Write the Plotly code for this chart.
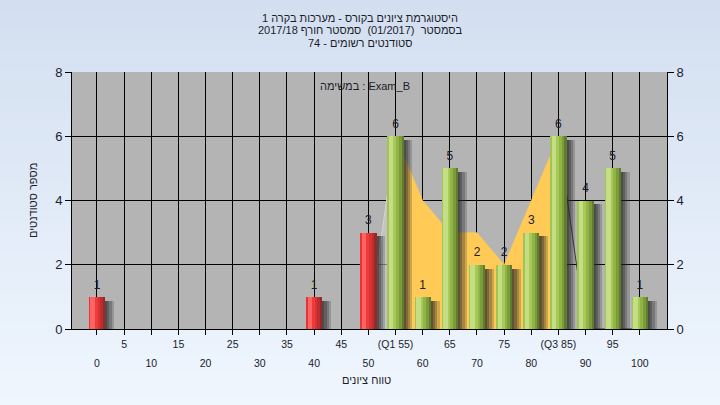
import plotly.graph_objects as go

# ---------------- data ----------------
categories = [0, 5, 10, 15, 20, 25, 30, 35, 40, 45, 50, 55, 60, 65, 70, 75, 80, 85, 90, 95, 100]
counts = [1, 0, 0, 0, 0, 0, 0, 0, 1, 0, 3, 6, 1, 5, 2, 2, 3, 6, 4, 5, 1]
tick_labels = ["0", "5", "10", "15", "20", "25", "30", "35", "40", "45", "50",
               "(Q1 55)", "60", "65", "70", "75", "80", "(Q3 85)", "90", "95", "100"]
area_values = [None, None, None, None, None, None, None, None, None, None,
               0, 6, 4, 3, 3, 2, 4, 6, 0, 0, 0]
q1 = 55
q3 = 85
pass_threshold = 55

title_lines = ["היסטוגרמת ציונים בקורס - מערכות בקרה 1",
               "בסמסטר  (01/2017)  סמסטר חורף 2017/18",
               "סטודנטים רשומים - 74"]
legend_text = "במשימה : Exam_B"
x_title = "טווח ציונים"
y_title = "מספר סטודנטים"

# ---------------- layout geometry ----------------
W, H = 720, 405
L, R, T, B = 72, 667, 72, 329
PW, PH = R - L, B - T
FONT = "Liberation Sans, DejaVu Sans, Arial, sans-serif"
TXT = "#1c1c2a"


def px_to_paper_x(px):
    return (px - L) / PW


def px_to_paper_y(py):
    return (B - py) / PH


fig = go.Figure()

# ---------------- area (IQR highlight) on base subplot (drawn first) ----------------
iqr_x = [c for c, v in zip(categories, area_values) if v is not None and q1 <= c <= q3]
iqr_y = [v for c, v in zip(categories, area_values) if v is not None and q1 <= c <= q3]
left_x = [c for c, v in zip(categories, area_values) if v is not None and c <= q1]
left_y = [v for c, v in zip(categories, area_values) if v is not None and c <= q1]
right_x = [c for c, v in zip(categories, area_values) if v is not None and c >= q3]
right_y = [v for c, v in zip(categories, area_values) if v is not None and c >= q3]

fig.add_trace(go.Scatter(x=left_x, y=left_y, mode="lines", fill="tozeroy",
                         fillcolor="rgba(205,205,205,0.6)",
                         line=dict(color="rgba(215,215,215,0.9)", width=1),
                         hoverinfo="skip", showlegend=False))
fig.add_trace(go.Scatter(x=iqr_x, y=iqr_y, mode="lines", fill="tozeroy",
                         fillcolor="#FFCA55", line=dict(color="#FFCA55", width=0.5),
                         hoverinfo="skip", showlegend=False))
fig.add_trace(go.Scatter(x=right_x, y=right_y, mode="lines",
                         line=dict(color="#3a3a3a", width=1),
                         hoverinfo="skip", showlegend=False))

# ---------------- bars on overlay subplot (drawn above the area) ----------------
bar_x = [c for c, n in zip(categories, counts) if n > 0]
bar_y = [n for n in counts if n > 0]
is_fail = [c < pass_threshold for c in bar_x]
bar_w = 3.0
half = bar_w / 2

# drop shadow to the right of each bar
shadow_y = [n - 0.12 for n in bar_y]
for off, wid, col in [(half, 1.6, "rgba(40,40,40,0.22)"),
                      (half, 1.2, "rgba(40,40,40,0.26)"),
                      (half, 0.8, "rgba(40,40,40,0.3)"),
                      (half, 0.4, "rgba(40,40,40,0.34)")]:
    fig.add_trace(go.Bar(x=bar_x, y=shadow_y, offset=off, width=wid,
                         xaxis="x2", yaxis="y2",
                         marker=dict(color=col, line=dict(width=0)),
                         hoverinfo="skip", showlegend=False))

# cylinder shading layers: (offset from centre, width, green colour, red colour)
layers = [
    (-half, 3.0, "#5F7D2C", "#9A2828"),
    (-half, 2.6, "#7C9C3B", "#BC2E2E"),
    (-half, 2.1, "#92B447", "#D83333"),
    (-half, 1.6, "#A6C957", "#EE3A3A"),
    (-half + 0.25, 0.85, "#C3DE85", "#FF6464"),
    (-half, 0.3, "#A2C454", "#E83434"),
]
for off, wid, gcol, rcol in layers:
    colors = [rcol if f else gcol for f in is_fail]
    fig.add_trace(go.Bar(x=bar_x, y=bar_y, offset=off, width=wid,
                         xaxis="x2", yaxis="y2",
                         marker=dict(color=colors, line=dict(width=0)),
                         hoverinfo="skip", showlegend=False))

# value labels
fig.add_trace(go.Scatter(x=bar_x, y=bar_y, mode="markers+text", text=[str(n) for n in bar_y],
                         xaxis="x2", yaxis="y2",
                         marker=dict(size=7, opacity=0),
                         textposition="top center",
                         textfont=dict(family=FONT, size=12, color=TXT),
                         hoverinfo="skip", showlegend=False))

# ---------------- background (gradient + plot area) ----------------
shapes = []
n_strips = 40
top_rgb = (211, 223, 240)
bot_rgb = (239, 246, 254)
y_top = px_to_paper_y(0)
y_bot = px_to_paper_y(H)
for i in range(n_strips):
    t = i / (n_strips - 1)
    col = tuple(round(top_rgb[k] + (bot_rgb[k] - top_rgb[k]) * t) for k in range(3))
    y0 = y_top - (y_top - y_bot) * i / n_strips
    y1 = y_top - (y_top - y_bot) * (i + 1) / n_strips
    shapes.append(dict(type="rect", xref="paper", yref="paper",
                       x0=px_to_paper_x(0), x1=px_to_paper_x(W), y0=y1, y1=y0 + 0.002,
                       fillcolor="rgb(%d,%d,%d)" % col, line=dict(width=0), layer="below"))
shapes.append(dict(type="rect", xref="paper", yref="paper", x0=0, x1=1, y0=0, y1=1,
                   fillcolor="#B4B4B4", line=dict(width=0), layer="below"))

# ---------------- annotations ----------------
annotations = []
for line, py in zip(title_lines, [18, 30, 43]):
    annotations.append(dict(text=line, xref="paper", yref="paper",
                            x=px_to_paper_x(360), y=px_to_paper_y(py),
                            xanchor="center", yanchor="middle", showarrow=False,
                            font=dict(family=FONT, size=11, color=TXT)))
annotations.append(dict(text=legend_text, xref="paper", yref="paper",
                        x=px_to_paper_x(365), y=px_to_paper_y(86),
                        xanchor="center", yanchor="middle", showarrow=False,
                        font=dict(family=FONT, size=11, color=TXT)))
annotations.append(dict(text=x_title, xref="paper", yref="paper",
                        x=px_to_paper_x(366), y=px_to_paper_y(380),
                        xanchor="center", yanchor="middle", showarrow=False,
                        font=dict(family=FONT, size=11, color=TXT)))
annotations.append(dict(text=y_title, xref="paper", yref="paper",
                        x=px_to_paper_x(33), y=px_to_paper_y(201), textangle=-90,
                        xanchor="center", yanchor="middle", showarrow=False,
                        font=dict(family=FONT, size=11, color=TXT)))

x_range = [-4.6, 105.0]
upper_text = [lab if i % 2 == 1 else "" for i, lab in enumerate(tick_labels)]
lower_vals = [c for i, c in enumerate(categories) if i % 2 == 0]
lower_text = [lab for i, lab in enumerate(tick_labels) if i % 2 == 0]

fig.update_layout(
    width=W, height=H,
    margin=dict(l=L, r=W - R, t=T, b=H - B, autoexpand=False),
    paper_bgcolor="rgb(225,235,248)",
    plot_bgcolor="rgba(0,0,0,0)",
    barmode="overlay",
    bargap=0,
    showlegend=False,
    font=dict(family=FONT, size=11, color=TXT),
    shapes=shapes,
    annotations=annotations,
    xaxis=dict(range=x_range, tickmode="array", tickvals=categories, ticktext=upper_text,
               ticks="outside", ticklen=5, tickcolor="black", tickwidth=1,
               showgrid=True, gridcolor="black", gridwidth=1, zeroline=False,
               showline=True, linecolor="black", linewidth=1,
               tickfont=dict(family=FONT, size=10.5, color=TXT), fixedrange=True),
    xaxis2=dict(range=x_range, overlaying="x", anchor="y", side="bottom",
                tickmode="array", tickvals=lower_vals, ticktext=lower_text,
                ticks="outside", ticklen=5, tickcolor="rgba(0,0,0,0)",
                ticklabelstandoff=19,
                showgrid=False, zeroline=False, showline=False,
                tickfont=dict(family=FONT, size=10.5, color=TXT), fixedrange=True),
    yaxis=dict(range=[0, 8], tickmode="linear", tick0=0, dtick=2,
               ticks="outside", ticklen=6, tickcolor="black",
               showgrid=True, gridcolor="black", gridwidth=1, zeroline=False,
               showline=True, linecolor="black", linewidth=1,
               tickfont=dict(family=FONT, size=13, color=TXT), fixedrange=True),
    yaxis2=dict(range=[0, 8], overlaying="y", side="right", anchor="x",
                tickmode="linear", tick0=0, dtick=2,
                ticks="outside", ticklen=6, tickcolor="black",
                showgrid=False, zeroline=False,
                showline=True, linecolor="black", linewidth=1,
                tickfont=dict(family=FONT, size=13, color=TXT), fixedrange=True),
)

fig.write_html("out.html",
               config={"displayModeBar": False, "staticPlot": True},
               post_script="document.body.style.margin='0';document.body.style.overflow='hidden';")
